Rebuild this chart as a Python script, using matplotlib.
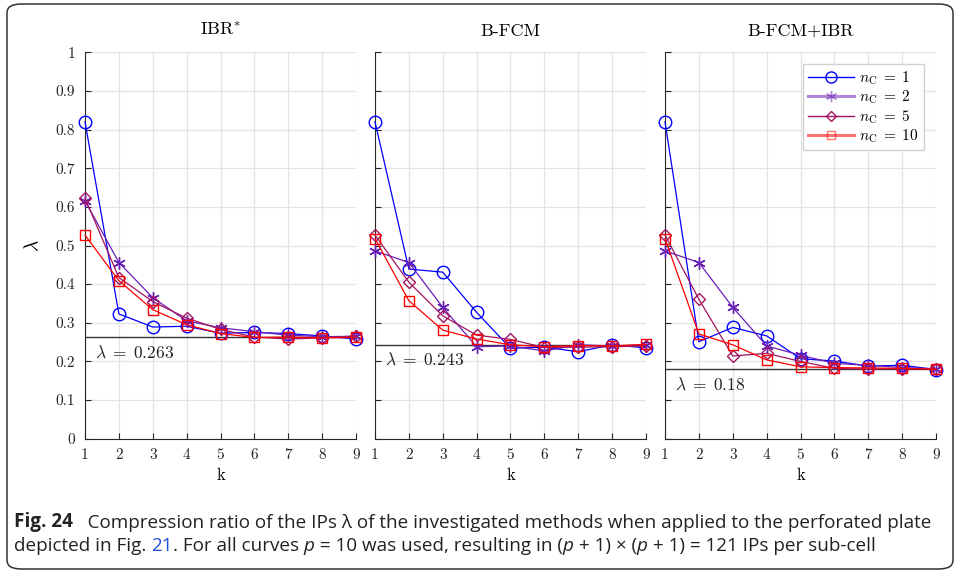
import numpy as np
import matplotlib.pyplot as plt
from matplotlib.lines import Line2D
from matplotlib.patches import FancyBboxPatch

plt.rcParams['font.family'] = 'serif'
plt.rcParams['font.serif'] = ['cmr10', 'DejaVu Serif']
plt.rcParams['mathtext.fontset'] = 'cm'
plt.rcParams['axes.formatter.use_mathtext'] = True

# data
k = [1, 2, 3, 4, 5, 6, 7, 8, 9]
titles = [r'IBR$^{*}$', 'B-FCM', 'B-FCM+IBR']
lam_ref = [0.263, 0.243, 0.18]
lam_txt = ['0.263', '0.243', '0.18']

ibr_n1 = [0.820, 0.323, 0.289, 0.291, 0.273, 0.275, 0.272, 0.266, 0.258]
ibr_n2 = [0.616, 0.456, 0.365, 0.305, 0.287, 0.277, 0.268, 0.264, 0.265]
ibr_n5 = [0.622, 0.417, 0.355, 0.312, 0.283, 0.263, 0.258, 0.261, 0.266]
ibr_n10 = [0.527, 0.409, 0.334, 0.295, 0.272, 0.262, 0.263, 0.261, 0.262]

bfcm_n1 = [0.820, 0.439, 0.431, 0.327, 0.234, 0.237, 0.225, 0.243, 0.235]
bfcm_n2 = [0.486, 0.456, 0.340, 0.238, 0.240, 0.227, 0.243, 0.240, 0.243]
bfcm_n5 = [0.527, 0.405, 0.318, 0.268, 0.257, 0.236, 0.237, 0.238, 0.240]
bfcm_n10 = [0.518, 0.357, 0.281, 0.258, 0.243, 0.238, 0.241, 0.240, 0.244]

both_n1 = [0.820, 0.251, 0.288, 0.266, 0.207, 0.201, 0.188, 0.190, 0.179]
both_n2 = [0.486, 0.456, 0.340, 0.240, 0.216, 0.195, 0.190, 0.184, 0.181]
both_n5 = [0.527, 0.361, 0.214, 0.221, 0.200, 0.182, 0.180, 0.181, 0.180]
both_n10 = [0.518, 0.271, 0.243, 0.204, 0.186, 0.184, 0.183, 0.182, 0.180]

panels = [[ibr_n1, ibr_n2, ibr_n5, ibr_n10],
          [bfcm_n1, bfcm_n2, bfcm_n5, bfcm_n10],
          [both_n1, both_n2, both_n5, both_n10]]
n_c = ['1', '2', '5', '10']

colors = ['#0000FF', '#6A1FB5', '#A3135F', '#FF0000']
markers = ['o', (6, 2, 0), 'D', 's']   # matlab-ish asterisk
msizes = [9, 9, 6.5, 7]

fig = plt.figure(figsize=(9.56, 5.75), dpi=100)

# rounded frame around figure + caption
frame = FancyBboxPatch((7 / 956, 6 / 575), 946 / 956, 565 / 575,
                       boxstyle='round,pad=0,rounding_size=0.015',
                       transform=fig.transFigure, fill=False,
                       edgecolor='#333333', linewidth=1.1)
fig.patches.append(frame)

lefts = [85 / 956, 375 / 956, 665 / 956]
for i, ax_left in enumerate(lefts):
    ax = fig.add_axes([ax_left, 1 - 438.7 / 575, 271 / 956, 386.4 / 575])
    for j, series in enumerate(panels[i]):
        ax.plot(k, series, color=colors[j], marker=markers[j], ms=msizes[j],
                mfc='none', mec=colors[j], lw=0.9, mew=1.0, zorder=3,
                clip_on=False)
    ax.axhline(lam_ref[i], color='#333333', lw=1.0, zorder=2)
    ax.text(1.3, lam_ref[i] - 0.018, r'$\lambda\;=\;' + lam_txt[i] + '$',
            fontsize=12.5, va='top', ha='left', color='#222222')
    ax.set_xlim(1, 9)
    ax.set_ylim(0, 1)
    ax.set_xticks(k)
    ax.set_xticklabels([str(v) for v in k])
    ax.set_yticks(np.arange(0, 1.01, 0.1))
    if i == 0:
        ax.set_yticklabels(['0', '0.1', '0.2', '0.3', '0.4', '0.5', '0.6',
                            '0.7', '0.8', '0.9', '1'])
        ax.set_ylabel(r'$\lambda$', fontsize=14, labelpad=10)
    else:
        ax.set_yticklabels([])
    ax.grid(True, color='#e3e3e3', lw=0.9)
    ax.set_axisbelow(True)
    ax.spines['top'].set_visible(False)
    ax.spines['right'].set_visible(False)
    ax.spines['left'].set_color('#262626')
    ax.spines['bottom'].set_color('#262626')
    ax.tick_params(direction='in', length=4, labelsize=11, colors='#262626',
                   pad=7)
    ax.set_xlabel('k', fontsize=12, labelpad=4)
    ax.set_title(titles[i], fontsize=13, pad=12)

    if i == 2:
        handles = []
        for j in range(4):
            alpha = 0.55 if j in (1, 3) else 1.0
            lw = 2.2 if j in (1, 3) else 1.0
            h = Line2D([], [], color=colors[j], lw=lw, alpha=alpha,
                       marker=markers[j], ms=msizes[j] - 1, mfc='none',
                       mec=colors[j], mew=1.0)
            handles.append(h)
        labels = [r'$n_{\mathrm{C}}\;=\;' + v + '$' for v in n_c]
        leg = ax.legend(handles, labels, loc='upper right', fontsize=11,
                        handlelength=3.0, fancybox=False, framealpha=1,
                        edgecolor='#d0d0d0', borderaxespad=0.0,
                        labelspacing=0.12, handletextpad=0.35,
                        borderpad=0.35, bbox_to_anchor=(0.955, 0.97))

# caption, built piece by piece
cap_size = 13.6
t0 = fig.text(14 / 956, 1 - 527 / 575, 'Fig. 24', fontweight='bold',
              va='baseline', family='Open Sans', fontsize=cap_size,
              color='#222222')
plt.annotate('   Compression ratio of the IPs \u03bb of the investigated methods '
             'when applied to the perforated plate',
             xy=(1, 0), xycoords=t0, va='bottom', family='Open Sans',
             fontsize=cap_size, color='#222222')
pieces = [('depicted in Fig. ', '#222222', 'normal'),
          ('21', '#1f4fd6', 'normal'),
          ('. For all curves ', '#222222', 'normal'),
          ('p', '#222222', 'italic'),
          (' = 10 was used, resulting in (', '#222222', 'normal'),
          ('p', '#222222', 'italic'),
          (' + 1) \u00d7 (', '#222222', 'normal'),
          ('p', '#222222', 'italic'),
          (' + 1) = 121 IPs per sub-cell', '#222222', 'normal')]
prev = None
for txt, col, sty in pieces:
    kw = dict(family='Open Sans', fontsize=cap_size, color=col, style=sty)
    if prev is None:
        prev = fig.text(14 / 956, 1 - 551 / 575, txt, va='baseline', **kw)
    else:
        prev = plt.annotate(txt, xy=(1, 0), xycoords=prev, va='bottom', **kw)

fig.savefig('out.png', dpi=100)
